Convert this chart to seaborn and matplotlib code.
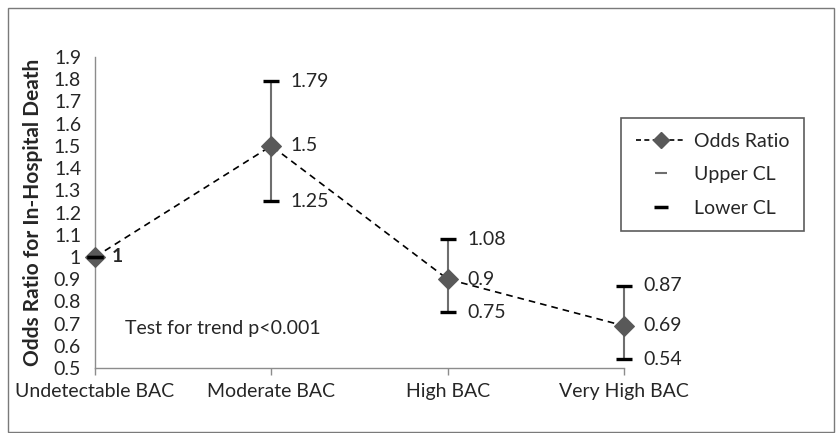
import pandas as pd
import matplotlib.pyplot as plt
import seaborn as sns
from matplotlib.lines import Line2D
from matplotlib.patches import Rectangle

# chart values
categories = ['Undetectable BAC', 'Moderate BAC', 'High BAC', 'Very High BAC']
odds_ratio = [1.0, 1.5, 0.9, 0.69]
upper_cl = [1.0, 1.79, 1.08, 0.87]
lower_cl = [1.0, 1.25, 0.75, 0.54]
y_ticks = [0.5, 0.6, 0.7, 0.8, 0.9, 1, 1.1, 1.2, 1.3, 1.4, 1.5, 1.6, 1.7, 1.8, 1.9]

df = pd.DataFrame({'pos': range(len(categories)), 'category': categories,
                   'OR': odds_ratio, 'upper': upper_cl, 'lower': lower_cl})

sns.set_style('white')
plt.rcParams['font.family'] = ['Lato', 'DejaVu Sans']

fig = plt.figure(figsize=(8.38, 4.33), dpi=100)
ax = fig.add_axes([95 / 838, 65 / 433, 529 / 838, 311 / 433])

# high-low lines for the confidence limits
ax.vlines(df['pos'], df['lower'], df['upper'], color='#6e6e6e', lw=1.5, zorder=1, clip_on=False)

# odds ratio series
sns.lineplot(data=df, x='pos', y='OR', ax=ax, color='black', lw=1.2,
             linestyle=(0, (4, 3)), marker='D', markersize=10,
             markerfacecolor='#595959', markeredgecolor='#595959', zorder=3, clip_on=False)

# caps
sns.scatterplot(data=df, x='pos', y='upper', ax=ax, marker='_', s=140,
                color='black', linewidth=2.4, zorder=4, clip_on=False)
sns.scatterplot(data=df, x='pos', y='lower', ax=ax, marker='_', s=140,
                color='black', linewidth=2.4, zorder=4, clip_on=False)

# data labels
for i, row in df.iterrows():
    if i == 0:
        ax.annotate('1', (row['pos'], row['OR']), xytext=(12, 0), textcoords='offset points',
                    va='center', fontsize=14, fontweight='bold')
        continue
    for v in (row['upper'], row['OR'], row['lower']):
        ax.annotate(f'{v:g}', (row['pos'], v), xytext=(14, 0), textcoords='offset points',
                    va='center', fontsize=14)

ax.text(0.17, 0.68, 'Test for trend p<0.001', fontsize=14, va='center', ha='left')

ax.set_xlim(0, 3)
ax.set_ylim(0.5, 1.9)
ax.set_yticks(y_ticks)
ax.set_yticklabels([f'{t:g}' for t in y_ticks], fontsize=14)
ax.set_xticks(df['pos'])
ax.set_xticklabels(categories, fontsize=14)
ax.tick_params(axis='y', length=0, pad=10)
ax.tick_params(axis='x', length=5, width=1, color='#8c8c8c', pad=6, direction='out', bottom=True)
ax.set_xlabel('')
ax.set_ylabel('Odds Ratio for In-Hospital Death', fontsize=15, fontweight='bold', labelpad=8)

sns.despine(ax=ax, top=True, right=True)
for s in ('left', 'bottom'):
    ax.spines[s].set_color('#8c8c8c')
    ax.spines[s].set_linewidth(1)

handles = [
    Line2D([], [], color='black', lw=1.2, linestyle=(0, (3, 2)), marker='D', markersize=8,
           markerfacecolor='#595959', markeredgecolor='#595959'),
    Line2D([], [], color='#6e6e6e', lw=0, marker='_', markersize=9, markeredgewidth=1.5),
    Line2D([], [], color='black', lw=0, marker='_', markersize=10, markeredgewidth=2.5),
]
leg = fig.legend(handles, ['Odds Ratio', 'Upper CL', 'Lower CL'], loc='upper left',
                 bbox_to_anchor=(621 / 838, 1 - 118 / 433), fontsize=14, frameon=True,
                 fancybox=False, edgecolor='#333333', handlelength=2.6, handletextpad=0.4,
                 labelspacing=0.85, borderpad=0.75, borderaxespad=0)
leg.get_frame().set_linewidth(1.2)

# outer chart border
fig.patches.append(Rectangle((8 / 838, 1 / 433), 826 / 838, 424 / 433, transform=fig.transFigure,
                             fill=False, edgecolor='#7a7a7a', lw=1))

fig.savefig('out.png', dpi=100)
